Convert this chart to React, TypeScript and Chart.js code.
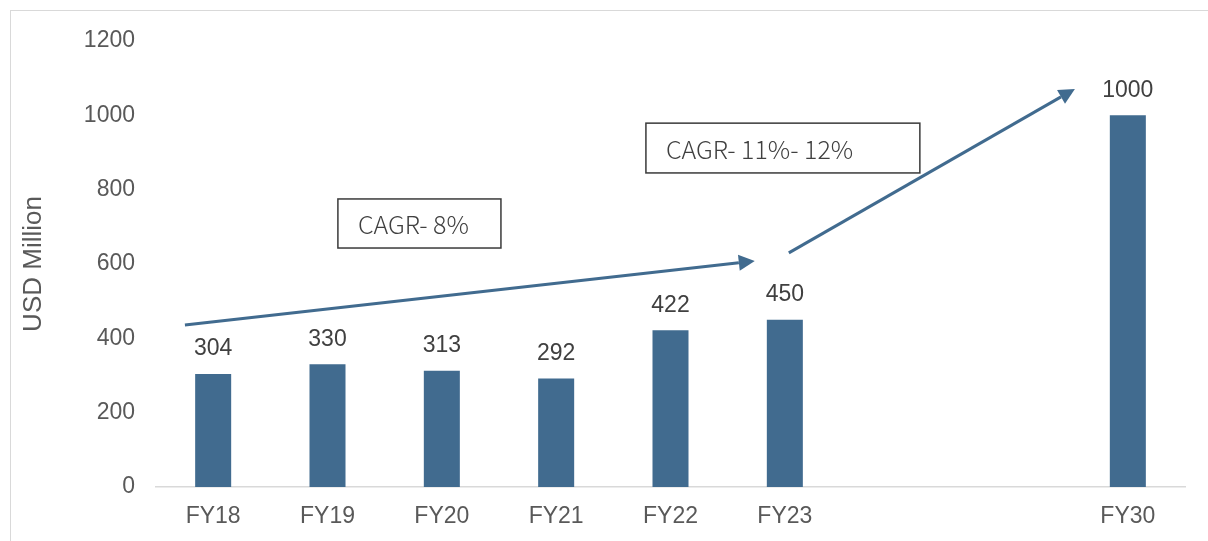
import React, { useEffect, useRef } from "react";
import { Chart, registerables } from "chart.js";

Chart.register(...registerables);

const categories = ["FY18", "FY19", "FY20", "FY21", "FY22", "FY23", "", "", "FY30"];
const marketValues: (number | null)[] = [304, 330, 313, 292, 422, 450, null, null, 1000];
const yTicks = [0, 200, 400, 600, 800, 1000, 1200];

// annotations in data units: [xIndex, value]
const arrowOne = [[-0.247, 436], [4.737, 608]];
const arrowTwo = [[5.035, 630], [7.537, 1071]];
const boxOne = { text: "CAGR- 8%", x0: 1.091, x1: 2.517, y0: 775, y1: 643 };
const boxTwo = { text: "CAGR- 11%- 12%", x0: 3.785, x1: 6.181, y0: 979, y1: 845 };

const BAR = "#416b8f";
const ARIAL = "'Liberation Sans', Arial, sans-serif";

export default function App() {
  const ref = useRef<HTMLCanvasElement | null>(null);
  useEffect(() => {
    if (!ref.current) return;
    const overlay = {
      id: "overlay",
      beforeDraw(chart: any) {
        const c = chart.ctx;
        c.save();
        c.strokeStyle = "#d9d9d9";
        c.lineWidth = 1;
        c.strokeRect(10.5, 10.5, 1400, 800);
        c.restore();
      },
      afterDatasetsDraw(chart: any) {
        const c = chart.ctx;
        const xs = chart.scales.x;
        const ys = chart.scales.y;
        const meta = chart.getDatasetMeta(0);
        c.save();
        c.font = `23px ${ARIAL}`;
        c.fillStyle = "#404040";
        c.textAlign = "center";
        c.textBaseline = "middle";
        meta.data.forEach((bar: any, i: number) => {
          const v = marketValues[i];
          if (v == null) return;
          c.fillText(String(v), bar.x, bar.y - 25);
        });
        const drawArrow = (pts: number[][]) => {
          const x0 = xs.getPixelForValue(pts[0][0]);
          const y0 = ys.getPixelForValue(pts[0][1]);
          const x1 = xs.getPixelForValue(pts[1][0]);
          const y1 = ys.getPixelForValue(pts[1][1]);
          const ang = Math.atan2(y1 - y0, x1 - x0);
          const hl = 16, hw = 8;
          const bx = x1 - hl * Math.cos(ang);
          const by = y1 - hl * Math.sin(ang);
          c.strokeStyle = BAR;
          c.fillStyle = BAR;
          c.lineWidth = 3;
          c.beginPath();
          c.moveTo(x0, y0);
          c.lineTo(bx, by);
          c.stroke();
          c.beginPath();
          c.moveTo(x1, y1);
          c.lineTo(bx + hw * Math.sin(ang), by - hw * Math.cos(ang));
          c.lineTo(bx - hw * Math.sin(ang), by + hw * Math.cos(ang));
          c.closePath();
          c.fill();
        };
        drawArrow(arrowOne);
        drawArrow(arrowTwo);
        const drawBox = (b: any) => {
          const l = xs.getPixelForValue(b.x0);
          const r = xs.getPixelForValue(b.x1);
          const t = ys.getPixelForValue(b.y0);
          const bo = ys.getPixelForValue(b.y1);
          c.fillStyle = "#ffffff";
          c.fillRect(l, t, r - l, bo - t);
          c.strokeStyle = "#3a3a3a";
          c.lineWidth = 1.5;
          c.strokeRect(l, t, r - l, bo - t);
          c.fillStyle = "#404040";
          c.font = `300 25px 'Noto Sans CJK SC', 'Noto Sans', sans-serif`;
          c.textAlign = "left";
          c.textBaseline = "middle";
          c.fillText(b.text, l + 20, (t + bo) / 2 + 1);
        };
        drawBox(boxOne);
        drawBox(boxTwo);
        c.restore();
      },
    };
    const chart = new Chart(ref.current, {
      type: "bar",
      data: {
        labels: categories,
        datasets: [
          {
            data: marketValues as any,
            backgroundColor: BAR,
            categoryPercentage: 1,
            barPercentage: 0.315,
          },
        ],
      },
      options: {
        animation: false,
        responsive: true,
        maintainAspectRatio: false,
        layout: { padding: { left: 0, right: 23, top: 41, bottom: 0 } },
        plugins: { legend: { display: false }, tooltip: { enabled: false } },
        scales: {
          x: {
            grid: { display: false, drawTicks: false },
            border: { display: true, color: "#d9d9d9", width: 1.5 },
            ticks: { color: "#595959", font: { size: 23, family: ARIAL }, padding: 16, autoSkip: false, maxRotation: 0 },
            afterFit: (s: any) => { s.height = 54; },
          },
          y: {
            min: 0,
            max: 1200,
            afterBuildTicks: (s: any) => { s.ticks = yTicks.map((v) => ({ value: v })); },
            grid: { display: false, drawTicks: false },
            border: { display: false },
            ticks: {
              color: "#595959",
              font: { size: 23, family: ARIAL },
              padding: 21,
              callback: (v: any) => String(v),
            },
            title: {
              display: true,
              text: "USD Million",
              color: "#595959",
              font: { size: 26, family: ARIAL },
              padding: { top: 18, bottom: 0 },
            },
            afterFit: (s: any) => { s.width = 156; },
          },
        },
      },
      plugins: [overlay],
    });
    return () => chart.destroy();
  }, []);
  return (
    <div style={{ position: "absolute", left: 0, top: 0, width: 1208, height: 541 }}>
      <canvas ref={ref} />
    </div>
  );
}
